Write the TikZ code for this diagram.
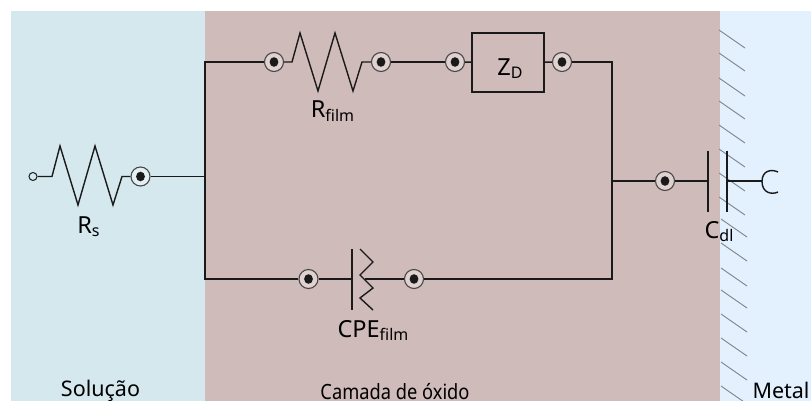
\documentclass[tikz,border=0pt]{standalone}
\usepackage{fontspec}
\setmainfont{Noto Sans}
\newfontfamily\narrowfont[FakeStretch=0.87]{Noto Sans}
\definecolor{solcol}{HTML}{D5E8EE}
\definecolor{oxcol}{HTML}{CFBBB9}
\definecolor{metcol}{HTML}{E3F0FE}
\definecolor{inkcol}{HTML}{1A1A1A}
\definecolor{hatchcol}{HTML}{808488}
\newcommand{\terminal}[2]{%
  \node[termring] (#1) at (#2) {};
  \fill[inkcol] (#1.center) circle[x radius=4.4pt,y radius=4.8pt];}
\newcommand{\sublabel}[3][3.6pt]{#2{\fontsize{16}{16}\selectfont\raisebox{-#1}{#3}}}
\tikzset{
  x=1pt,y=-1pt,
  wire/.style={draw=inkcol,line width=1.4pt,line join=miter},
  termring/.style={circle,draw=inkcol!80,line width=1.1pt,fill=white,fill opacity=0.35,minimum size=19pt,inner sep=0pt},
  openend/.style={circle,draw=inkcol,line width=1pt,minimum size=8pt,inner sep=0pt},
  zbox/.style={draw=inkcol,line width=1.4pt,minimum width=72pt,minimum height=59pt,inner sep=0pt},
  hatchline/.style={draw=hatchcol,line width=0.9pt},
  lab/.style={text=black,font=\fontsize{23.5}{25}\selectfont,inner sep=0pt,anchor=base},
  banner/.style={lab,font=\fontsize{21.5}{24}\selectfont},
  bannersmall/.style={lab,font=\narrowfont\fontsize{21}{24}\selectfont}
}
\begin{document}
\begin{tikzpicture}
\useasboundingbox (0,0) rectangle (811,401);
\fill[solcol] (11,11) rectangle (205,401);
\fill[oxcol] (205,11) rectangle (720,401);
\fill[metcol] (720,11) rectangle (811,401);
% hatching
\foreach \yy/\xs in {30/719,53/719,78/719,101/719,125/719,149/719,173/719,197/719,219/721,243/721,268/721,290/721,314/721,338/721,362/721,386/721}{
  \draw[hatchline] (\xs,\yy) -- ++(26,18);
}
% terminals
\node[openend] (in) at (33,176.5) {};
\terminal{ta}{140.5,176.5}
\terminal{tb}{274,62}
\terminal{tc}{381,62}
\terminal{td}{455,62}
\terminal{te}{562,62}
\terminal{tf}{665,181}
\terminal{tg}{308.5,279}
\terminal{th}{414,279}
% junctions
\coordinate (jl) at (205,176.5);
\coordinate (jlt) at (205,62);
\coordinate (jlb) at (205,279);
\coordinate (jr) at (612,181);
\coordinate (jrt) at (612,62);
\coordinate (jrb) at (612,279);
\coordinate (cp1) at (708,181);
\coordinate (cp2) at (727,181);
\coordinate (cf) at (762,181);
\coordinate (ep) at (352,279);
\coordinate (ez) at (365,279);
% Rs
\draw[wire] (in) -- (52,176.5) -- (60,146) -- (78,205) -- (95,146) -- (113,205) -- (122,176.5) -- (ta);
\draw[wire] (ta) -- (jl);
% top branch and left bus
\draw[wire] (tb) -- (jlt) -- (jlb) -- (tg);
\draw[wire] (tb) -- (292,62) -- (300,33) -- (318,91) -- (335,33) -- (353,91) -- (362,62) -- (tc);
\draw[wire] (tc) -- (td);
\node[zbox] (zd) at (508,62.5) {};
\node[lab] at (510,75.7) {\sublabel[3pt]{Z}{D}};
\draw[wire] (td) -- (zd);
\draw[wire] (zd) -- (te);
% right bus
\draw[wire] (te) -- (jrt) -- (jrb) -- (th);
% bottom element
\draw[wire] (tg) -- (ep);
\draw[wire] (352,249) -- (352,310);
\draw[wire] (360,249) -- (373,262) -- (360,275) -- (373,288) -- (360,298) -- (373,310);
\draw[wire] (ez) -- (th);
% Cdl
\draw[wire] (jr) -- (tf);
\draw[wire] (tf) -- (cp1);
\draw[wire] (708,151) -- (708,212);
\draw[wire] (727,151) -- (727,212);
\draw[wire] (cp2) -- (cf);
\draw[wire] (778,172) .. controls (772,169) and (762,170) .. (762,181.5) .. controls (762,193) and (772,195) .. (778,192);
% labels
\node[lab] at (88.5,233) {\sublabel{R}{s}};
\node[lab] at (332.5,118) {\sublabel{R}{film}};
\node[lab] at (373,337) {\sublabel{CPE}{film}};
\node[lab] at (719,238) {\sublabel{C}{dl}};
\node[banner] at (100.5,396.5) {Solução};
\node[bannersmall] at (395,399.5) {Camada de óxido};
\node[banner] at (781,398) {Metal};
\end{tikzpicture}
\end{document}
